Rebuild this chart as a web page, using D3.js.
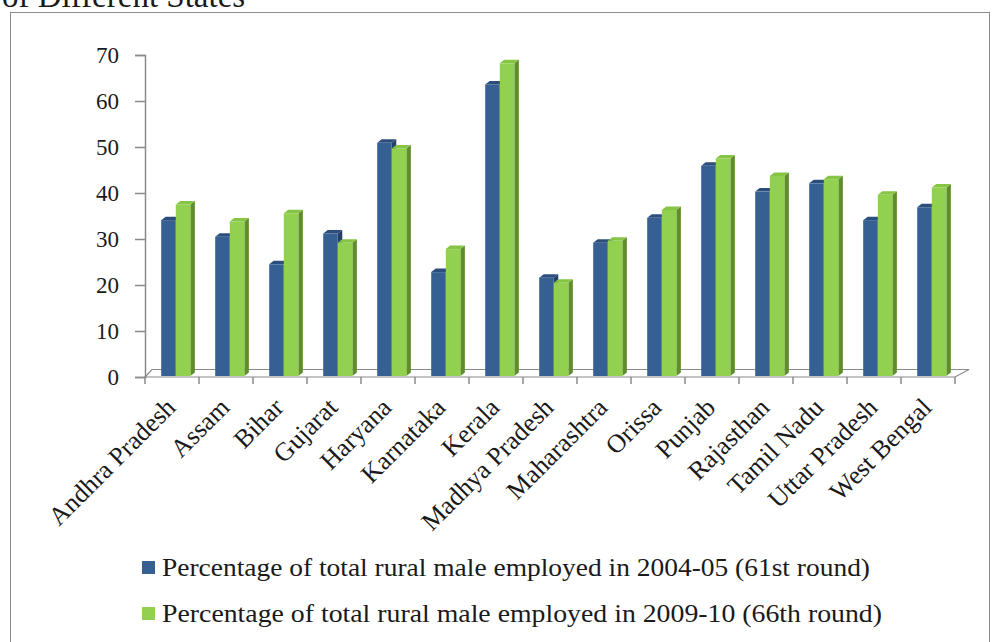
<!DOCTYPE html>
<html>
<head>
<meta charset="utf-8">
<script src="https://cdn.jsdelivr.net/npm/d3@7"></script>
<style>
  html, body { margin: 0; padding: 0; background: #fff; }
  svg { display: block; }
  text { font-family: "Liberation Serif", "Times New Roman", serif; fill: #1a1a1a; }
</style>
</head>
<body>
<svg id="chart" width="992" height="642"></svg>
<script>
// States and employment shares (%) for the two NSS rounds
const states = ["Andhra Pradesh", "Assam", "Bihar", "Gujarat", "Haryana", "Karnataka", "Kerala",
  "Madhya Pradesh", "Maharashtra", "Orissa", "Punjab", "Rajasthan", "Tamil Nadu", "Uttar Pradesh", "West Bengal"];
const round61 = [34.1, 30.5, 24.5, 31.2, 50.9, 22.8, 63.6, 21.6, 29.2, 34.6, 45.9, 40.3, 42.1, 34.1, 36.9];
const round66 = [37.5, 33.8, 35.6, 29.2, 49.7, 27.8, 68.2, 20.5, 29.6, 36.3, 47.5, 43.7, 43.0, 39.6, 41.2];
const yTicks = [0, 10, 20, 30, 40, 50, 60, 70];
const seriesNames = [
  "Percentage of total rural male employed in 2004-05 (61st round)",
  "Percentage of total rural male employed in 2009-10 (66th  round)"
];

const svg = d3.select("#chart");

// caption line running off the top edge
svg.append("text").attr("x", 2).attr("y", 7)
  .style("font-size", "33px").text("of Different States");

// outer chart frame
svg.append("rect").attr("x", 10.5).attr("y", 12.5).attr("width", 979).attr("height", 660)
  .attr("fill", "none").attr("stroke", "#8c8c8c").attr("stroke-width", 1);

const plotLeft = 145, plotRight = 955, plotTop = 55, base = 377;
const x = d3.scaleBand().domain(states).range([plotLeft, plotRight]);
const y = d3.scaleLinear().domain([0, 70]).range([base, plotTop]);
const bw = x.bandwidth();
const dx = 4.5, dy = -3.5;           // depth offset for the 3-D faces
const barW = bw * 0.27;

// floor
const axisCol = "#8a8a8a";
svg.append("path")
  .attr("d", `M${plotLeft},${base}L${plotRight},${base}L${plotRight + 14},${base - 7.5}L${plotLeft + 7},${base - 7.5}Z`)
  .attr("fill", "none").attr("stroke", axisCol).attr("stroke-width", 1.2);

// value axis
const yAxis = d3.axisLeft(y).tickValues(yTicks).tickSize(10).tickPadding(16);
const gy = svg.append("g").attr("transform", `translate(${plotLeft},0)`).call(yAxis);
gy.select(".domain").attr("stroke", axisCol).attr("stroke-width", 1.5);
gy.selectAll(".tick line").attr("stroke", axisCol).attr("stroke-width", 1.5);
gy.selectAll(".tick text").style("font-size", "23px")
  .style("font-family", '"Liberation Serif", serif').attr("fill", "#1a1a1a");

// category axis ticks at band boundaries
const bounds = states.map(s => x(s)).concat([plotRight]);
svg.selectAll(".xtick").data(bounds).enter().append("line")
  .attr("x1", d => d).attr("x2", d => d).attr("y1", base).attr("y2", base + 7)
  .attr("stroke", axisCol).attr("stroke-width", 1.5);

// category labels
svg.selectAll(".xlab").data(states).enter().append("text")
  .attr("transform", d => `translate(${x(d) + bw / 2 + 5},${base + 32}) rotate(-45)`)
  .attr("text-anchor", "end")
  .style("font-size", "26px")
  .text(d => d);

// 3-D column drawing
const palettes = [
  { front: "#376092", side: "#24406a", top: "#2c4e7c" },
  { front: "#92d050", side: "#5f8d2c", top: "#86c444" }
];
function drawBar(g, x0, v, pal) {
  const yt = y(v), yb = base - 1;
  g.append("path") // side face
    .attr("d", `M${x0 + barW},${yt}L${x0 + barW + dx},${yt + dy}L${x0 + barW + dx},${yb + dy}L${x0 + barW},${yb}Z`)
    .attr("fill", pal.side);
  g.append("path") // top face
    .attr("d", `M${x0},${yt}L${x0 + dx},${yt + dy}L${x0 + barW + dx},${yt + dy}L${x0 + barW},${yt}Z`)
    .attr("fill", pal.top);
  g.append("rect") // front face
    .attr("x", x0).attr("y", yt).attr("width", barW).attr("height", yb - yt)
    .attr("fill", pal.front);
}

const bars = svg.append("g");
states.forEach((s, i) => {
  const x0 = x(s) + bw * 0.3;
  const g = bars.append("g");
  drawBar(g, x0, round61[i], palettes[0]);
  drawBar(g, x0 + barW, round66[i], palettes[1]);
});

// legend
const legend = svg.append("g");
seriesNames.forEach((name, i) => {
  const ly = 561 + i * 46;
  legend.append("rect").attr("x", 142).attr("y", ly).attr("width", 13).attr("height", 13)
    .attr("fill", palettes[i].front);
  legend.append("text").attr("x", 162).attr("y", ly + 15)
    .style("font-size", "26px")
    .attr("textLength", i === 0 ? 708 : 720).attr("lengthAdjust", "spacingAndGlyphs")
    .text(name);
});
</script>
</body>
</html>
